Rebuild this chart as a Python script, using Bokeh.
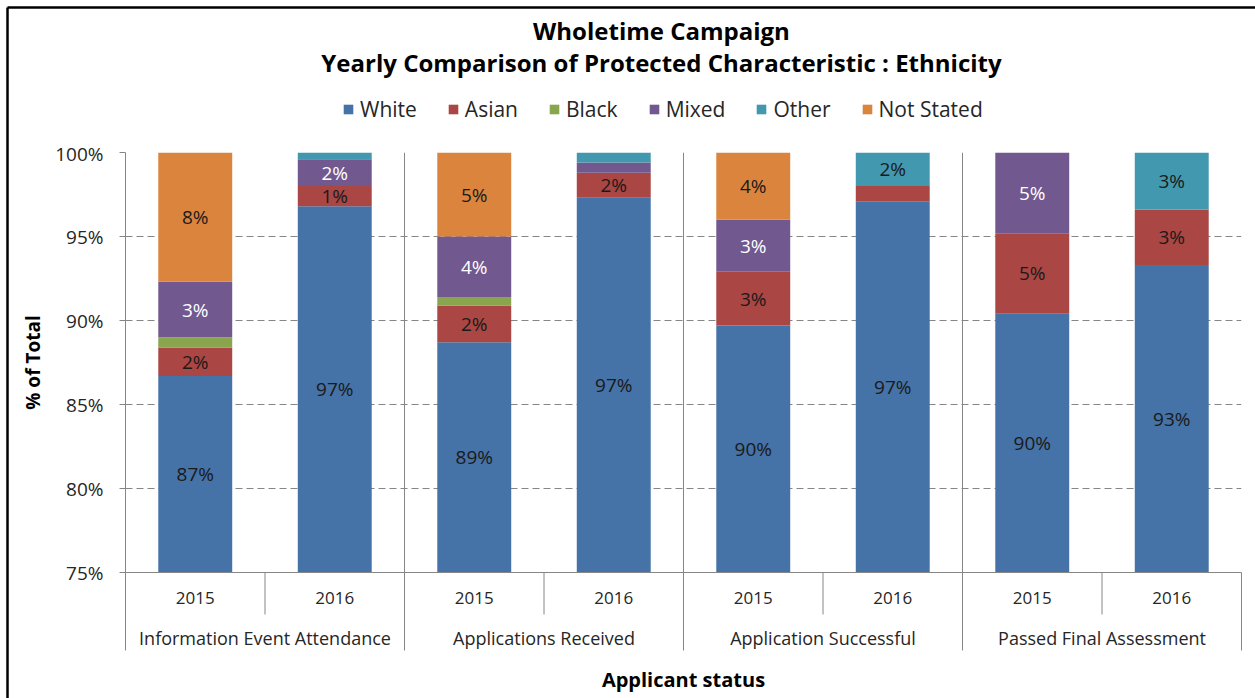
from bokeh.plotting import figure
from bokeh.layouts import column
from bokeh.models import (FactorRange, Range1d, ColumnDataSource, Span,
                          FixedTicker, PrintfTickFormatter)
from bokeh.core.properties import value
from bokeh.embed import file_html
from bokeh.resources import INLINE

# ---------------- data ----------------
title_line1 = "Wholetime Campaign"
title_line2 = "Yearly Comparison of Protected Characteristic : Ethnicity"
x_title = "Applicant status"
y_title = "% of Total"
groups = ["Information Event Attendance", "Applications Received",
          "Application Successful", "Passed Final Assessment"]
years = ["2015", "2016"]
series = ["White", "Asian", "Black", "Mixed", "Other", "Not Stated"]
white = [86.7, 96.8, 88.7, 97.3, 89.7, 97.1, 90.4, 93.3]
asian = [1.7, 1.2, 2.2, 1.5, 3.2, 0.9, 4.8, 3.3]
black = [0.6, 0.0, 0.5, 0.0, 0.0, 0.0, 0.0, 0.0]
mixed = [3.3, 1.6, 3.6, 0.6, 3.1, 0.0, 4.8, 0.0]
other = [0.0, 0.4, 0.0, 0.6, 0.0, 2.0, 0.0, 3.4]
not_stated = [7.7, 0.0, 5.0, 0.0, 4.0, 0.0, 0.0, 0.0]
y_ticks = [75, 80, 85, 90, 95, 100]

colors = ["#4572A7", "#AA4643", "#89A54E", "#71588F", "#4198AF", "#DB843D"]
label_colors = ["#1a1a1a", "#1a1a1a", "#1a1a1a", "#ffffff", "#1a1a1a", "#1a1a1a"]
FONT = "Open Sans"
GRAY = "#868686"
TXT = "#262626"

# ---------------- layout ----------------
W = 1255
HH = 140            # header (titles + legend) height
MH = 698 - HH       # main chart height
FL, FR, FT, FB = 125, 1241, 12, 432   # plot frame inside the main figure
YMIN, YMAX = y_ticks[0], y_ticks[-1]
NCAT = len(groups) * len(years)
BORDER_X, BORDER_Y = 7, 7
NAN = float("nan")


def dx(px):
    return (px - FL) / (FR - FL) * NCAT


def dy(py):
    return YMIN + (FB - py) / (FB - FT) * (YMAX - YMIN)


# ---------------- header: titles + legend ----------------
# the column aligns this frame with the main frame, so x data == page pixels
hd = figure(width=W, height=HH, x_range=Range1d(FL, FR), y_range=Range1d(0, HH),
            output_backend="svg", toolbar_location=None,
            x_axis_location=None, y_axis_location=None,
            min_border_left=FL, min_border_right=W - FR,
            min_border_top=0, min_border_bottom=0,
            background_fill_color="white", border_fill_color="white")
hd.grid.visible = False
hd.outline_line_color = None

hd.text(x=[661, 661], y=[HH - 30, HH - 62], text=[title_line1, title_line2],
        text_align="center", text_baseline="middle", text_font=value(FONT),
        text_font_style="bold", text_font_size="24px", text_color="#000000")

# legend entries (swatches only, nothing plotted)
for s, c in zip(series, colors):
    hd.vbar(x=[NAN], top=[NAN], width=1, color=c, line_color=None, legend_label=s)

lg = hd.legend[0]
lg.orientation = "horizontal"
lg.location = (342 - FL, HH - 123)
lg.label_text_font = FONT
lg.label_text_font_size = "21px"
lg.label_text_color = TXT
lg.glyph_width = 12
lg.glyph_height = 12
lg.label_standoff = 6
lg.spacing = 30
lg.padding = 0
lg.margin = 0
lg.border_line_color = None
lg.background_fill_alpha = 0

hd.segment(x0=[BORDER_X, BORDER_X], y0=[HH - BORDER_Y, HH - BORDER_Y],
           x1=[BORDER_X, W + 5], y1=[-5, HH - BORDER_Y],
           line_color="black", line_width=2.5, level="overlay")

# ---------------- main chart ----------------
factors = [(g, y) for g in groups for y in years]
values = dict(zip(series, [white, asian, black, mixed, other, not_stated]))
src = ColumnDataSource(dict(x=factors, **values))

p = figure(x_range=FactorRange(factors=factors, factor_padding=0, group_padding=0,
                               subgroup_padding=0, range_padding=0),
           y_range=Range1d(YMIN, YMAX),
           width=W, height=MH, output_backend="svg", toolbar_location=None,
           min_border_left=FL, min_border_right=W - FR,
           min_border_top=FT, min_border_bottom=MH - FB,
           background_fill_color="white", border_fill_color="white")
p.outline_line_color = None

p.vbar_stack(series, x="x", width=0.53, color=colors, line_color=None, source=src)

# data labels
lx, ly, lt, lc = [], [], [], []
for i, f in enumerate(factors):
    bottom = 0.0
    for s, c in zip(series, label_colors):
        v = values[s][i]
        top = bottom + v
        if v >= 1:
            lx.append(f)
            ly.append((max(bottom, YMIN) + top) / 2)
            lt.append(f"{round(v)}%")
            lc.append(c)
        bottom = top
p.text(x="x", y="y", text="t", text_color="c",
       source=ColumnDataSource(dict(x=lx, y=ly, t=lt, c=lc)),
       text_align="center", text_baseline="middle",
       text_font=value(FONT), text_font_size="19px")

# grid
p.xgrid.visible = False
p.ygrid.grid_line_color = GRAY
p.ygrid.grid_line_dash = "7 4"
p.ygrid.grid_line_width = 1

# group boundary lines inside plot
for k in range(1, len(groups)):
    p.add_layout(Span(location=k * len(years), dimension="height",
                      line_color=GRAY, line_width=1))

# y axis
ya = p.yaxis[0]
ya.ticker = FixedTicker(ticks=y_ticks)
ya.formatter = PrintfTickFormatter(format="%d%%")
ya.axis_line_color = GRAY
ya.major_tick_line_color = GRAY
ya.major_tick_out = 6
ya.major_tick_in = 0
ya.minor_tick_line_color = None
ya.major_label_standoff = 16
ya.major_label_text_font = FONT
ya.major_label_text_font_size = "19px"
ya.major_label_text_color = TXT
ya.axis_label = y_title
ya.axis_label_text_font = FONT
ya.axis_label_text_font_style = "bold"
ya.axis_label_text_font_size = "19px"
ya.axis_label_text_color = "#000000"
ya.axis_label_standoff = 6

# x axis
xa = p.xaxis[0]
xa.axis_line_color = GRAY
xa.major_tick_line_color = None
xa.major_tick_in = 0
xa.major_tick_out = 0
xa.major_label_standoff = 19
xa.major_label_text_font = FONT
xa.major_label_text_font_size = "17px"
xa.major_label_text_color = TXT
xa.group_text_font = FONT
xa.group_text_font_size = "18px"
xa.group_text_color = TXT
xa.group_text_font_style = "normal"
if hasattr(xa, "separator_line_alpha"):
    xa.separator_line_alpha = 0
xa.axis_label = x_title
xa.axis_label_text_font = FONT
xa.axis_label_text_font_style = "bold"
xa.axis_label_text_font_size = "20px"
xa.axis_label_text_color = "#000000"
xa.axis_label_standoff = 13

# separators below the category axis
yr_x = [g * len(years) + k for g in range(len(groups)) for k in range(1, len(years))]
gr_x = [g * len(years) for g in range(len(groups) + 1)]
p.segment(x0=yr_x, y0=[dy(FB)] * len(yr_x), x1=yr_x, y1=[dy(FB + 42)] * len(yr_x),
          line_color=GRAY, line_width=1, level="annotation")
p.segment(x0=gr_x, y0=[dy(FB)] * len(gr_x), x1=gr_x, y1=[dy(FB + 78)] * len(gr_x),
          line_color=GRAY, line_width=1, level="annotation")

# chart border continues down the left side
p.segment(x0=[dx(BORDER_X)], y0=[dy(-5)], x1=[dx(BORDER_X)], y1=[dy(MH + 5)],
          line_color="black", line_width=2.5, level="annotation")

layout = column(hd, p, spacing=0)
open("out.html", "w").write(file_html(layout, INLINE))
